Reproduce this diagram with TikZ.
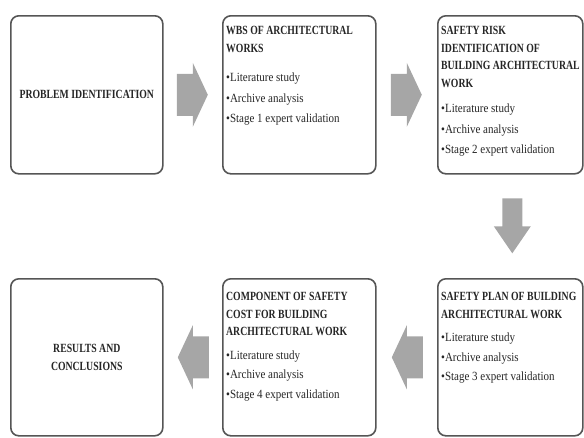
\documentclass[tikz,border=0pt]{standalone}
\usepackage{fontspec}
\setmainfont{Liberation Serif}
\newfontfamily\ttlfont[FakeStretch=0.78]{Liberation Serif}
\newfontfamily\itmfont[FakeStretch=0.88]{Liberation Serif}
\newcommand{\Tl}{\ttlfont\bfseries}
\newcommand{\It}{\itmfont\mdseries}
\usetikzlibrary{calc}
\definecolor{boxgray}{HTML}{555555}
\definecolor{arrowgray}{HTML}{A6A6A6}
\tikzset{
  box/.style={draw=boxgray, line width=1.6pt, rounded corners=8pt, fill=white, inner sep=0pt, anchor=north west},
  blk/.style={fill=arrowgray, draw=none},
  txt/.style={anchor=north west, inner sep=0pt, align=left, text=black!85, font=\fontsize{12.5}{17.5}\selectfont},
  ctxt/.style={inner sep=0pt, align=center, text=black!85, font=\fontsize{12.5}{17.5}\selectfont\Tl},
  rarrow/.pic={\fill[blk] (-16,-21) -- (0,-21) -- (0,-32) -- (15,0) -- (0,32) -- (0,21) -- (-16,21) -- cycle;},
  darrow/.pic={\fill[blk] (-10,-28) -- (10,-28) -- (10,0) -- (18.5,0) -- (0,27) -- (-18.5,0) -- (-10,0) -- cycle;}
}
\begin{document}
\begin{tikzpicture}[x=1pt,y=-1pt]
\useasboundingbox (0,0) rectangle (584,437);
% boxes
\node[box, minimum width=152pt, minimum height=158pt] (b1) at (10,15) {};
\node[box, minimum width=153pt, minimum height=158pt] (b2) at (222,15) {};
\node[box, minimum width=145pt, minimum height=158pt] (b3) at (437,15) {};
\node[box, minimum width=152pt, minimum height=157pt] (b4) at (10,278) {};
\node[box, minimum width=153pt, minimum height=157pt] (b5) at (222,278) {};
\node[box, minimum width=145pt, minimum height=157pt] (b6) at (437,278) {};
% texts
\node[ctxt] (t1) at (b1.center) {PROBLEM IDENTIFICATION};
\node[txt] (t2) at ($(b2.north west)+(4,11.5)$) {\Tl WBS OF ARCHITECTURAL\\\Tl WORKS\\[12pt]\It •Literature study\\[3pt]\It •Archive analysis\\[3pt]\It •Stage 1 expert validation};
\node[txt] (t3) at ($(b3.north west)+(4,11.5)$) {\Tl SAFETY RISK\\\Tl IDENTIFICATION OF\\\Tl BUILDING ARCHITECTURAL\\\Tl WORK\\[8pt]\It •Literature study\\[3pt]\It •Archive analysis\\[3pt]\It •Stage 2 expert validation};
\node[txt] (t6) at ($(b6.north west)+(4,14.5)$) {\Tl SAFETY PLAN OF BUILDING\\\Tl ARCHITECTURAL WORK\\[6pt]\It •Literature study\\[2pt]\It •Archive analysis\\[2pt]\It •Stage 3 expert validation};
\node[txt] (t5) at ($(b5.north west)+(4,14.5)$) {\Tl COMPONENT OF SAFETY\\\Tl COST FOR BUILDING\\\Tl ARCHITECTURAL WORK\\[6pt]\It •Literature study\\[2pt]\It •Archive analysis\\[2pt]\It •Stage 4 expert validation};
\node[ctxt] (t4) at (b4.center) {RESULTS AND\\CONCLUSIONS};
% arrows
\coordinate (m12) at ($(b1.east)!0.5!(b2.west)$);
\coordinate (m23) at ($(b2.east)!0.5!(b3.west)$);
\coordinate (m36) at ($(b3.south)!0.5!(b6.north)+(2,0)$);
\coordinate (m65) at ($(b6.west)!0.5!(b5.east)$);
\coordinate (m54) at ($(b5.west)!0.5!(b4.east)$);
\pic at (m12) {rarrow};
\pic at (m23) {rarrow};
\pic at (m36) {darrow};
\pic[rotate=180] at (m65) {rarrow};
\pic[rotate=180] at (m54) {rarrow};
\end{tikzpicture}
\end{document}
